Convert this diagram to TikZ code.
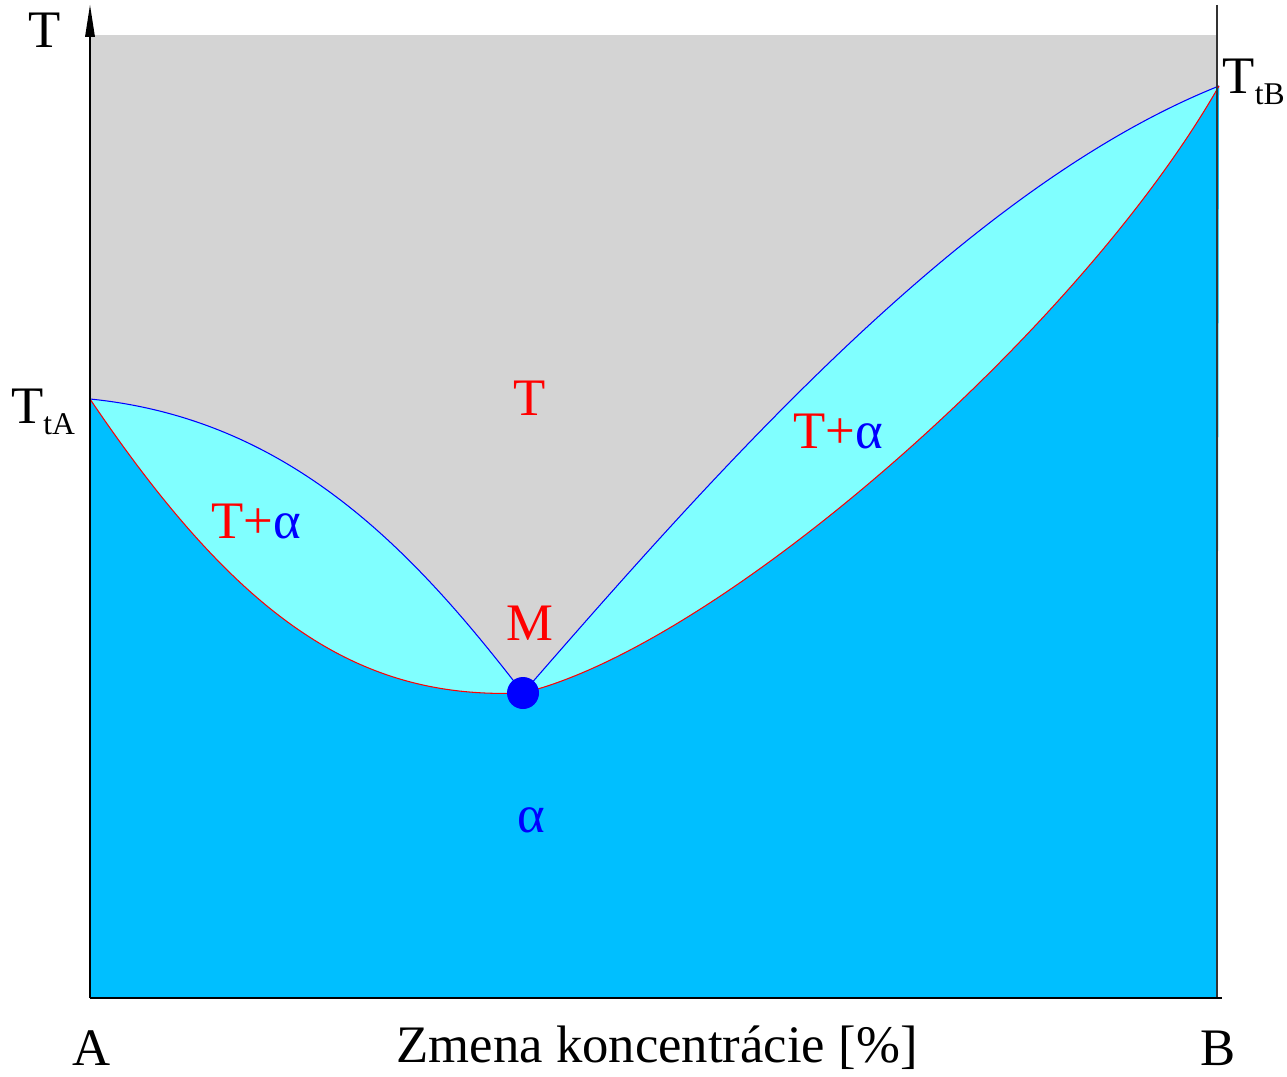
\documentclass[tikz,border=0pt]{standalone}
\usepackage{fontspec}
\setmainfont{LiberationSerif}[Extension=.ttf,UprightFont=*-Regular,BoldFont=*-Bold,ItalicFont=*-Italic]
\usetikzlibrary{arrows.meta}
\definecolor{phgray}{RGB}{212,212,212}
\definecolor{phlight}{RGB}{128,255,255}
\definecolor{phdeep}{RGB}{0,191,255}
\definecolor{phblue}{RGB}{0,0,255}
\definecolor{phred}{RGB}{255,0,0}
\newcommand\phsub[1]{\raisebox{-6pt}{\fontsize{18}{20}\selectfont #1}}
\begin{document}
\begin{tikzpicture}[x=0.02cm,y=-0.02cm,
  phlabel/.style={font=\fontsize{30}{36}\selectfont,inner sep=0pt},
  phliq/.style={phblue,line width=0.6pt},
  phsol/.style={phred,line width=0.6pt},
  phaxis/.style={black,line width=1pt}
]
  \useasboundingbox (0,0) rectangle (1287,1077);

  % Key points
  \coordinate (TtA) at (90,399);
  \coordinate (TtB) at (1219,86);
  \coordinate (M) at (523,693);
  \coordinate (BL) at (90,998);
  \coordinate (BR) at (1217,998);
  \coordinate (Ttop) at (90,5);

  % Melt region
  \fill[phgray] (90,35) rectangle (BR);

  % Two-phase region (below liquidus)
  \fill[phlight] (TtA) .. controls (290,419) and (413,550) .. (M)
    .. controls (723,463) and (969,186) .. (TtB) -- (BR) -- (BL) -- cycle;

  % Solid region (below solidus)
  \fill[phdeep] (TtA) .. controls (240,621) and (360,700) .. (M)
    .. controls (720,645) and (1080,330) .. (TtB) -- (BR) -- (BL) -- cycle;

  % Liquidus and solidus
  \draw[phliq] (TtA) .. controls (290,419) and (413,550) .. (M)
    .. controls (723,463) and (969,186) .. (TtB);
  \draw[phsol] (TtA) .. controls (240,621) and (360,700) .. (M)
    .. controls (720,645) and (1080,330) .. (TtB);

  % Axes
  \draw[phaxis] (BL) -- (90,36);
  \fill[black] (Ttop) -- (95,37) -- (85,37) -- cycle;
  \draw[black!80,line width=0.6pt] (1217,5) -- (BR);
  \draw[phaxis] (BL) -- (1222,998);

  % Eutectic-like point
  \fill[phblue] (M) circle (16);

  % Labels
  \node[phlabel] (lT) at (45,30) {T};
  \node[phlabel] (lTtA) at (43,412) {T\phsub{tA}};
  \node[phlabel,anchor=east] (lTtB) at (1285,82) {T\phsub{tB}};
  \node[phlabel,text=phred] (lmelt) at (530,398) {T};
  \node[phlabel] (lmixA) at (256,521) {\textcolor{phred}{T+}\textcolor{phblue}{α}};
  \node[phlabel] (lmixB) at (838,432) {\textcolor{phred}{T+}\textcolor{phblue}{α}};
  \node[phlabel,text=phred] (lM) at (530,623) {M};
  \node[phlabel,text=phblue] (lsol) at (531,820) {α};
  \node[phlabel] (lA) at (92,1048) {A};
  \node[phlabel] (lB) at (1218,1048) {B};
  \node[phlabel] (lx) at (657,1048) {Zmena koncentrácie [\%]};
\end{tikzpicture}
\end{document}
